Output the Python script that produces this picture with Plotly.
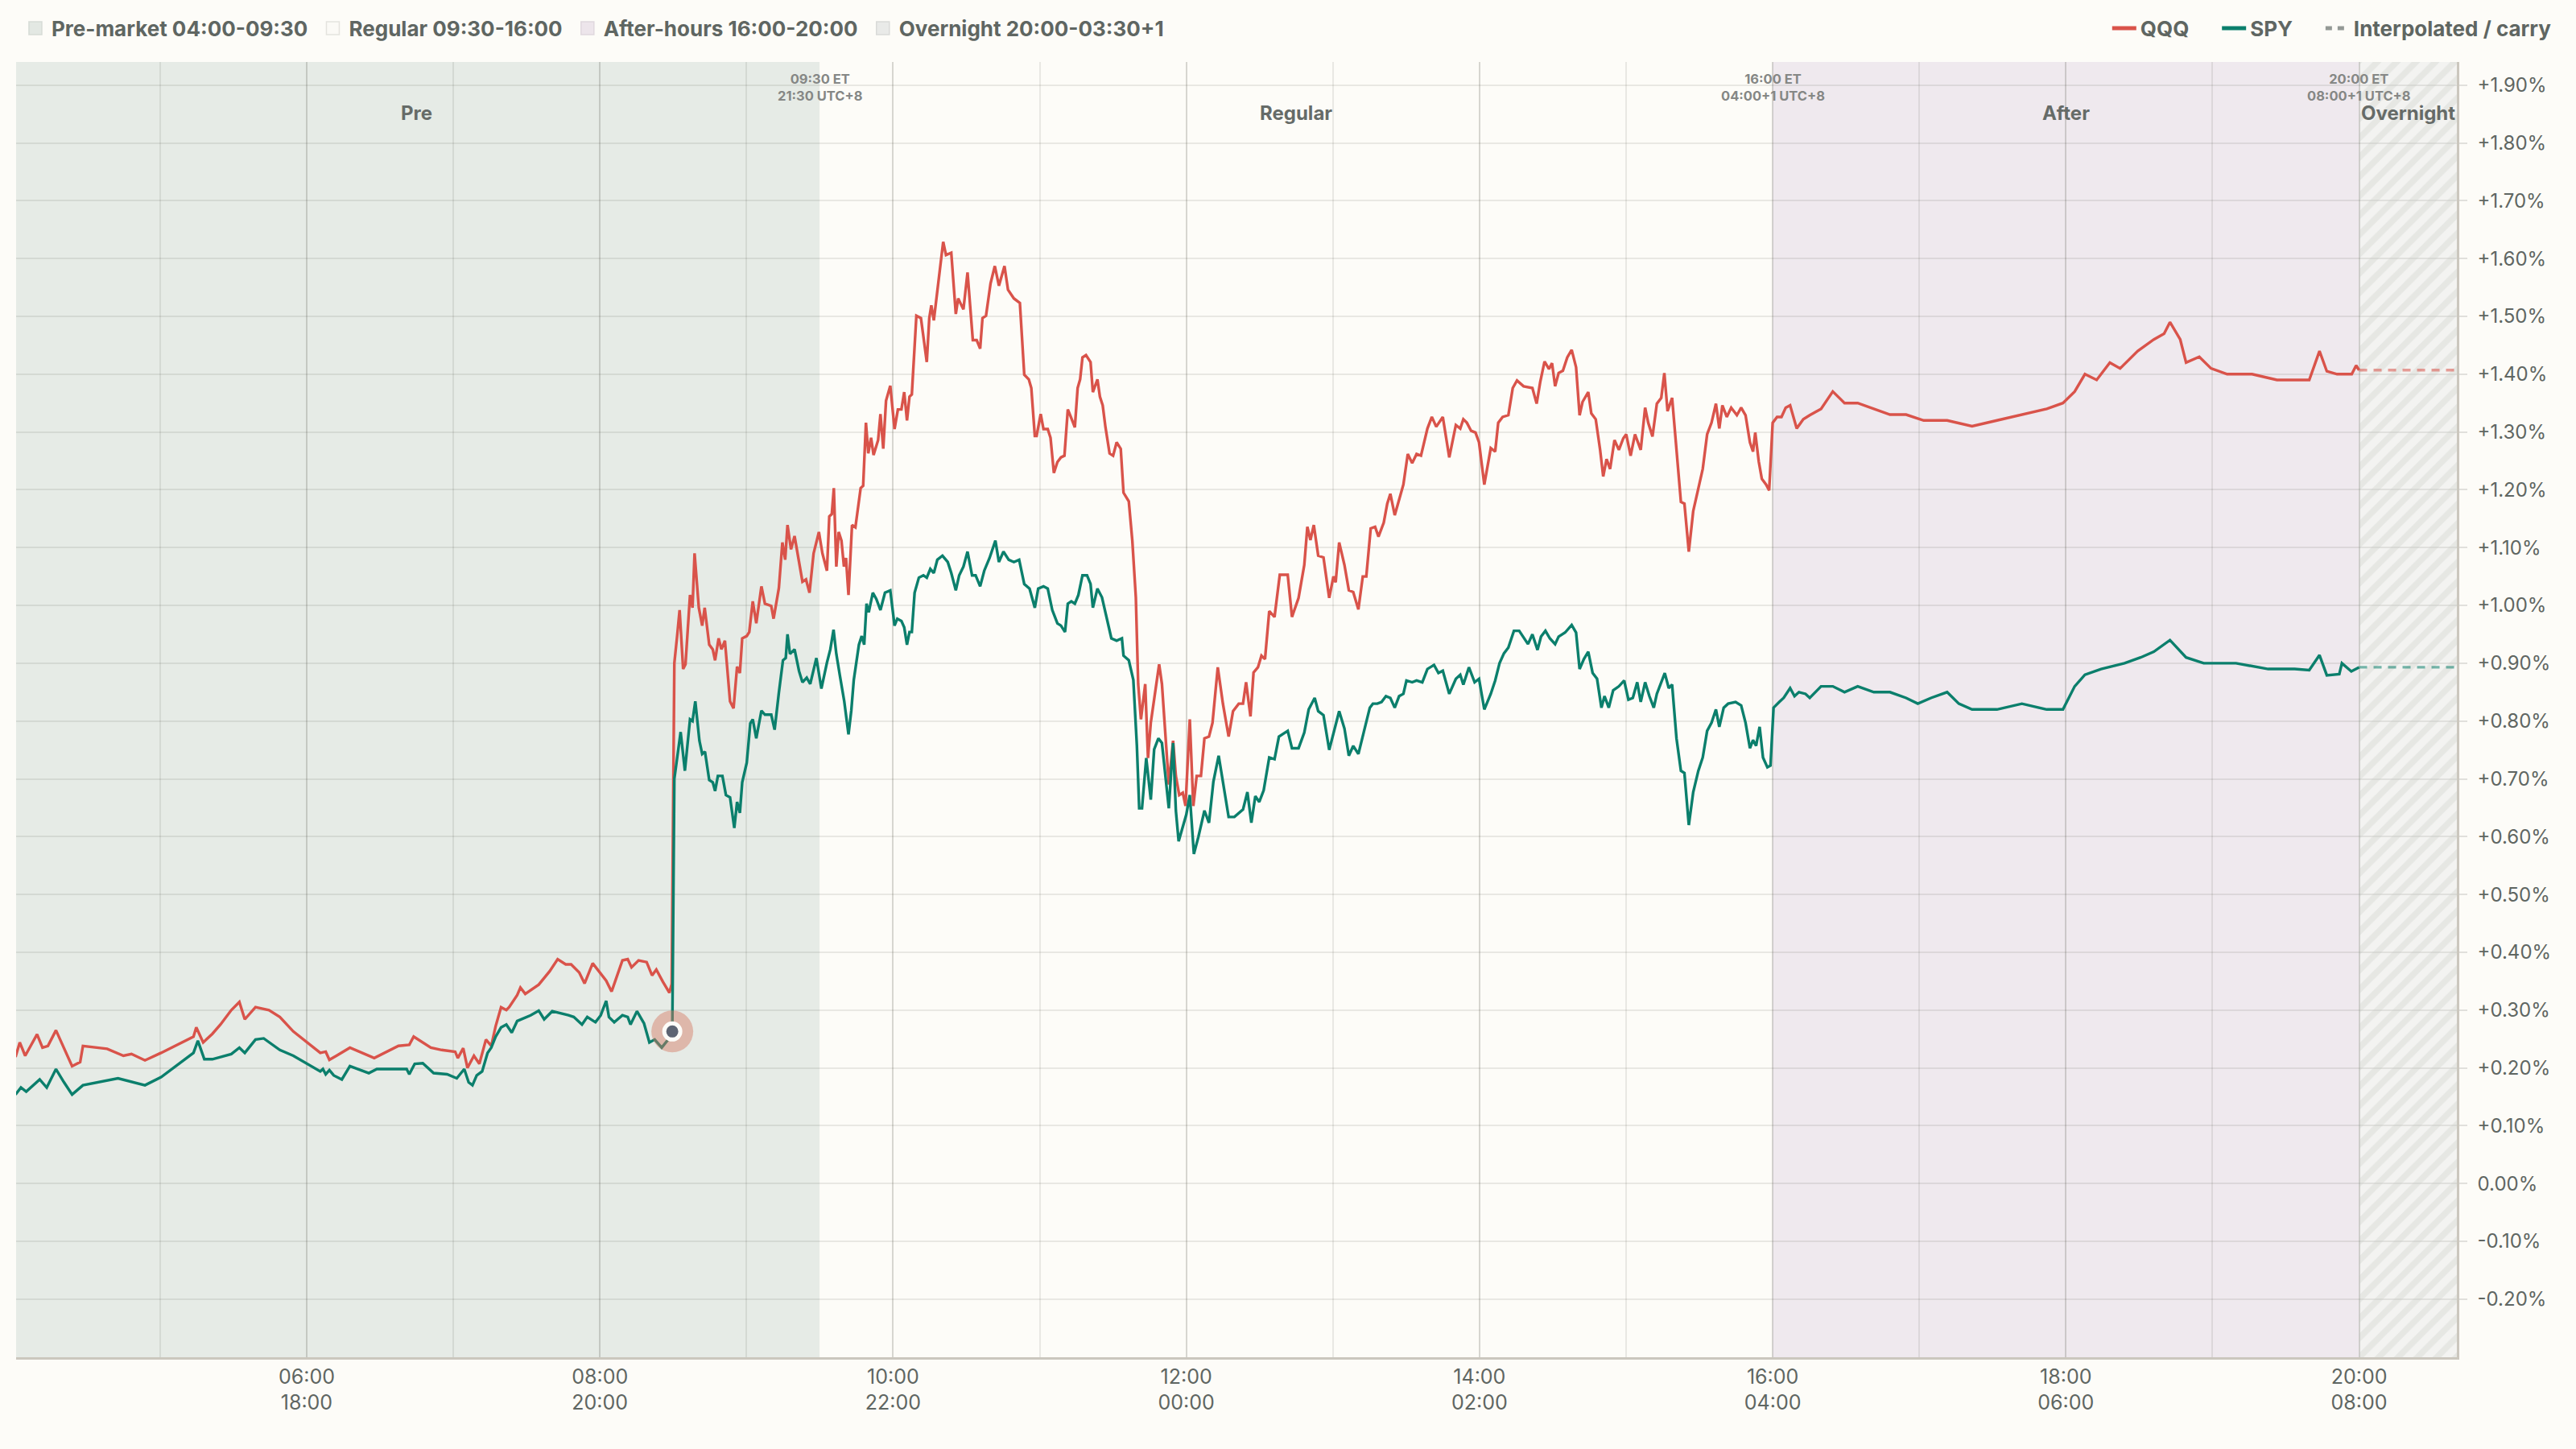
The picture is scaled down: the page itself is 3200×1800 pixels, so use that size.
import plotly.graph_objects as go
from datetime import datetime, timedelta

# ---------------- data ----------------
# times are hours of the US/Eastern trading day, values are % change
qqq_hour = [
    4.014, 4.043, 4.080, 4.161, 4.198, 4.235, 4.290, 4.345, 4.400, 4.455, 4.474, 4.639, 4.750, 4.805, 4.897,
    5.007, 5.228, 5.247, 5.294, 5.357, 5.412, 5.486, 5.541, 5.578, 5.651, 5.743, 5.817, 5.909, 6.001, 6.093,
    6.130, 6.155, 6.203, 6.295, 6.461, 6.626, 6.700, 6.730, 6.847, 6.921, 7.013, 7.031, 7.068, 7.097, 7.141,
    7.178, 7.223, 7.259, 7.289, 7.326, 7.362, 7.381, 7.436, 7.458, 7.491, 7.583, 7.657, 7.712, 7.767, 7.804,
    7.859, 7.896, 7.951, 7.995, 8.043, 8.080, 8.117, 8.154, 8.190, 8.216, 8.264, 8.319, 8.356, 8.385, 8.430,
    8.474, 8.490,
    8.508, 8.527, 8.544, 8.568, 8.584, 8.615, 8.632, 8.646, 8.675, 8.698, 8.715, 8.746, 8.770, 8.786, 8.810,
    8.829, 8.853, 8.888, 8.912, 8.936, 8.955, 8.971, 9.002, 9.019, 9.043, 9.067, 9.102, 9.126, 9.169, 9.185,
    9.221, 9.245, 9.264, 9.280, 9.304, 9.328, 9.352, 9.382, 9.406, 9.430, 9.458, 9.494, 9.518, 9.549, 9.565,
    9.582, 9.596, 9.613, 9.629, 9.648, 9.665, 9.679, 9.696, 9.720, 9.743, 9.779, 9.796, 9.815, 9.831, 9.850,
    9.867, 9.898, 9.914, 9.933, 9.952, 9.981, 10.010, 10.033, 10.057, 10.076, 10.095, 10.112, 10.128, 10.159,
    10.190, 10.230, 10.247, 10.261, 10.278, 10.314, 10.342, 10.361, 10.397, 10.428, 10.444, 10.480, 10.508,
    10.544, 10.570, 10.594, 10.610, 10.634, 10.665, 10.694, 10.722, 10.760, 10.784, 10.824, 10.865, 10.895,
    10.926, 10.943, 10.967, 10.979, 11.007, 11.026, 11.055, 11.074, 11.097, 11.121, 11.145, 11.169, 11.192,
    11.211, 11.240, 11.259, 11.276, 11.292, 11.316, 11.347, 11.363, 11.394, 11.411, 11.430, 11.449, 11.477,
    11.501, 11.525, 11.553, 11.572, 11.608, 11.632, 11.656, 11.672, 11.691, 11.720, 11.739, 11.758, 11.781,
    11.815, 11.834, 11.853, 11.881, 11.910, 11.929, 11.952, 11.976, 11.995, 12.024, 12.048, 12.071, 12.100,
    12.124, 12.155, 12.179, 12.215, 12.250, 12.289, 12.319, 12.358, 12.387, 12.408, 12.438, 12.459, 12.489,
    12.513, 12.537, 12.566, 12.602, 12.638, 12.692, 12.721, 12.766, 12.805, 12.826, 12.847, 12.870, 12.900,
    12.936, 12.975, 13.004, 13.019, 13.043, 13.079, 13.109, 13.139, 13.174, 13.204, 13.228, 13.258, 13.288,
    13.311, 13.347, 13.371, 13.392, 13.422, 13.452, 13.481, 13.511, 13.541, 13.571, 13.601, 13.645, 13.675,
    13.705, 13.750, 13.794, 13.839, 13.869, 13.890, 13.914, 13.943, 13.973, 13.997, 14.033, 14.077, 14.107,
    14.128, 14.158, 14.197, 14.227, 14.256, 14.301, 14.361, 14.390, 14.414, 14.444, 14.474, 14.495, 14.516,
    14.540, 14.569, 14.599, 14.629, 14.659, 14.683, 14.703, 14.742, 14.763, 14.793, 14.823, 14.844, 14.867,
    14.891, 14.921, 14.951, 14.981, 15.001, 15.031, 15.061, 15.100, 15.130, 15.151, 15.180, 15.210, 15.240,
    15.261, 15.283, 15.314, 15.350, 15.374, 15.398, 15.428, 15.458, 15.493, 15.523, 15.553, 15.583, 15.613,
    15.636, 15.657, 15.687, 15.717, 15.756, 15.785, 15.815, 15.845, 15.866, 15.881, 15.905, 15.926, 15.955,
    15.976, 16.000, 16.030, 16.060, 16.089, 16.119, 16.164, 16.209, 16.253,
    16.33, 16.41, 16.49, 16.58, 16.69, 16.80, 16.91, 17.03, 17.19, 17.36, 17.53, 17.70, 17.87, 17.98, 18.06,
    18.13, 18.21, 18.30, 18.37, 18.49, 18.60, 18.67, 18.71, 18.78, 18.82, 18.91, 18.99, 19.10, 19.27, 19.44,
    19.56, 19.66, 19.73, 19.78, 19.85, 19.95, 19.98, 20.00,
]
qqq_pct = [
    0.219, 0.244, 0.221, 0.258, 0.235, 0.238, 0.265, 0.235, 0.203, 0.210, 0.238, 0.233, 0.221, 0.224, 0.213,
    0.226, 0.254, 0.270, 0.244, 0.259, 0.275, 0.300, 0.314, 0.284, 0.305, 0.300, 0.288, 0.263, 0.244, 0.226,
    0.228, 0.214, 0.221, 0.235, 0.217, 0.238, 0.240, 0.254, 0.235, 0.231, 0.228, 0.217, 0.234, 0.200, 0.221,
    0.207, 0.249, 0.238, 0.272, 0.305, 0.300, 0.305, 0.326, 0.339, 0.328, 0.344, 0.367, 0.388, 0.379, 0.379,
    0.365, 0.346, 0.381, 0.367, 0.351, 0.332, 0.360, 0.386, 0.388, 0.374, 0.386, 0.383, 0.360, 0.370, 0.349,
    0.330, 0.345,
    0.900, 0.947, 0.992, 0.890, 0.898, 1.018, 0.996, 1.090, 0.996, 0.965, 0.996, 0.932, 0.924, 0.905, 0.943,
    0.924, 0.939, 0.834, 0.822, 0.894, 0.883, 0.943, 0.947, 0.954, 1.007, 0.969, 1.033, 1.003, 0.999, 0.977,
    1.030, 1.109, 1.079, 1.139, 1.097, 1.120, 1.082, 1.041, 1.045, 1.022, 1.090, 1.127, 1.090, 1.060, 1.154,
    1.158, 1.203, 1.067, 1.127, 1.112, 1.067, 1.082, 1.018, 1.139, 1.135, 1.203, 1.207, 1.316, 1.263, 1.290,
    1.260, 1.286, 1.331, 1.271, 1.354, 1.380, 1.305, 1.339, 1.339, 1.369, 1.320, 1.361, 1.365, 1.501,
    1.497, 1.421, 1.497, 1.519, 1.493, 1.565, 1.629, 1.606, 1.610, 1.504, 1.531, 1.512, 1.576,
    1.459, 1.459, 1.444, 1.497, 1.501, 1.557, 1.587, 1.553, 1.587, 1.546, 1.531, 1.523, 1.399,
    1.391, 1.376, 1.293, 1.293, 1.331, 1.305, 1.305, 1.290, 1.229, 1.248, 1.256, 1.259, 1.339,
    1.327, 1.308, 1.376, 1.391, 1.429, 1.433, 1.421, 1.369, 1.391, 1.361, 1.346, 1.308, 1.263,
    1.259, 1.282, 1.271, 1.195, 1.180, 1.112, 1.014, 0.864, 0.803, 0.864, 0.736, 0.797, 0.841,
    0.898, 0.864, 0.797, 0.690, 0.766, 0.705, 0.672, 0.676, 0.653, 0.803, 0.653, 0.705, 0.705,
    0.770, 0.773, 0.797, 0.893, 0.830, 0.773, 0.817, 0.830, 0.830, 0.867, 0.808, 0.884, 0.893,
    0.913, 0.907, 0.990, 0.980, 1.053, 1.053, 0.980, 1.013, 1.070, 1.136, 1.113, 1.139, 1.086,
    1.083, 1.013, 1.050, 1.040, 1.109, 1.070, 1.026, 1.023, 0.993, 1.050, 1.050, 1.133, 1.136,
    1.119, 1.143, 1.176, 1.193, 1.156, 1.183, 1.209, 1.262, 1.246, 1.262, 1.259, 1.306, 1.326,
    1.309, 1.326, 1.256, 1.312, 1.306, 1.322, 1.316, 1.302, 1.299, 1.282, 1.209, 1.272, 1.266,
    1.316, 1.326, 1.329, 1.376, 1.389, 1.379, 1.376, 1.349, 1.386, 1.422, 1.409, 1.419, 1.379,
    1.402, 1.406, 1.429, 1.442, 1.412, 1.329, 1.352, 1.369, 1.332, 1.322, 1.269, 1.223, 1.253,
    1.236, 1.286, 1.269, 1.289, 1.296, 1.259, 1.296, 1.269, 1.342, 1.316, 1.292, 1.349, 1.359,
    1.402, 1.336, 1.359, 1.243, 1.179, 1.176, 1.093, 1.163, 1.203, 1.236, 1.296, 1.316, 1.349,
    1.306, 1.346, 1.326, 1.342, 1.329, 1.342, 1.329, 1.282, 1.266, 1.299, 1.249, 1.219, 1.209,
    1.199, 1.316, 1.326, 1.326, 1.342, 1.346, 1.306, 1.322, 1.329,
    1.34, 1.37, 1.35, 1.35, 1.34, 1.33, 1.33, 1.32, 1.32, 1.31, 1.32, 1.33, 1.34, 1.35, 1.37,
    1.40, 1.39, 1.42, 1.41, 1.44, 1.46, 1.47, 1.49, 1.46, 1.42, 1.43, 1.41, 1.40, 1.40, 1.39,
    1.39, 1.39, 1.44, 1.405, 1.40, 1.40, 1.415, 1.407,
]

spy_hour = [
    4.014, 4.051, 4.087, 4.179, 4.227, 4.290, 4.345, 4.400, 4.474, 4.603, 4.713, 4.897, 5.007, 5.228, 5.258,
    5.302, 5.357, 5.486, 5.541, 5.578, 5.651, 5.707, 5.817, 5.909, 6.038, 6.093, 6.111, 6.130, 6.155, 6.185,
    6.240, 6.295, 6.424, 6.479, 6.682, 6.700, 6.737, 6.792, 6.866, 6.958, 7.024, 7.075, 7.105, 7.131, 7.160,
    7.197, 7.234, 7.259, 7.289, 7.326, 7.362, 7.399, 7.436, 7.528, 7.583, 7.620, 7.675, 7.730, 7.786, 7.822,
    7.878, 7.914, 7.970, 8.006, 8.043, 8.062, 8.098, 8.154, 8.190, 8.209, 8.253, 8.301, 8.338, 8.374, 8.422,
    8.466, 8.494,
    8.508, 8.527, 8.551, 8.580, 8.615, 8.632, 8.651, 8.679, 8.698, 8.717, 8.746, 8.770, 8.786, 8.805, 8.836,
    8.860, 8.888, 8.917, 8.936, 8.955, 8.971, 9.002, 9.026, 9.043, 9.067, 9.102, 9.126, 9.169, 9.192, 9.221,
    9.249, 9.268, 9.280, 9.297, 9.328, 9.359, 9.382, 9.411, 9.435, 9.477, 9.511, 9.549, 9.572, 9.594, 9.613,
    9.637, 9.667, 9.696, 9.715, 9.732, 9.767, 9.786, 9.803, 9.819, 9.834, 9.862, 9.886, 9.914, 9.945, 9.981,
    10.010, 10.029, 10.057, 10.076, 10.095, 10.112, 10.128, 10.147, 10.176, 10.207, 10.230, 10.254, 10.278,
    10.302, 10.337, 10.373, 10.397, 10.428, 10.451, 10.480, 10.508, 10.539, 10.563, 10.594, 10.622, 10.658,
    10.698, 10.722, 10.753, 10.789, 10.824, 10.860, 10.895, 10.931, 10.967, 10.990, 11.026, 11.055, 11.086,
    11.121, 11.145, 11.173, 11.192, 11.216, 11.240, 11.264, 11.292, 11.323, 11.347, 11.363, 11.394, 11.425,
    11.454, 11.489, 11.525, 11.561, 11.572, 11.608, 11.639, 11.663, 11.679, 11.698, 11.727, 11.758, 11.781,
    11.810, 11.834, 11.862, 11.881, 11.910, 11.929, 11.948, 11.976, 12.000, 12.024, 12.052, 12.083, 12.124,
    12.155, 12.185, 12.221, 12.259, 12.289, 12.328, 12.358, 12.387, 12.417, 12.444, 12.471, 12.498, 12.528,
    12.566, 12.602, 12.632, 12.692, 12.721, 12.766, 12.805, 12.835, 12.876, 12.900, 12.936, 12.975, 13.004,
    13.043, 13.079, 13.109, 13.139, 13.174, 13.213, 13.252, 13.273, 13.303, 13.332, 13.362, 13.392, 13.422,
    13.452, 13.481, 13.502, 13.541, 13.571, 13.610, 13.645, 13.690, 13.720, 13.750, 13.794, 13.839, 13.869,
    13.890, 13.928, 13.967, 13.997, 14.033, 14.077, 14.107, 14.137, 14.167, 14.197, 14.235, 14.271, 14.307,
    14.331, 14.361, 14.396, 14.420, 14.450, 14.480, 14.516, 14.540, 14.584, 14.629, 14.659, 14.683, 14.712,
    14.742, 14.772, 14.802, 14.832, 14.853, 14.882, 14.912, 14.951, 14.987, 15.016, 15.046, 15.076, 15.100,
    15.130, 15.159, 15.189, 15.210, 15.240, 15.264, 15.291, 15.314, 15.344, 15.374, 15.398, 15.428, 15.458,
    15.493, 15.523, 15.553, 15.583, 15.613, 15.636, 15.666, 15.696, 15.747, 15.785, 15.815, 15.845, 15.866,
    15.887, 15.911, 15.934, 15.964, 15.985, 16.006, 16.045, 16.075, 16.119, 16.149, 16.179, 16.224, 16.253,
    16.33, 16.41, 16.49, 16.58, 16.69, 16.80, 16.91, 16.99, 17.08, 17.19, 17.27, 17.36, 17.53, 17.70, 17.87,
    17.98, 18.06, 18.13, 18.24, 18.40, 18.51, 18.60, 18.71, 18.82, 18.94, 19.16, 19.38,
    19.56, 19.66, 19.73, 19.78, 19.865, 19.883, 19.947, 20.00,
]
spy_pct = [
    0.154, 0.166, 0.159, 0.180, 0.166, 0.198, 0.175, 0.154, 0.170, 0.177, 0.182, 0.170, 0.184, 0.226, 0.247,
    0.215, 0.215, 0.224, 0.235, 0.226, 0.249, 0.251, 0.231, 0.221, 0.203, 0.194, 0.198, 0.189, 0.196, 0.187,
    0.180, 0.203, 0.191, 0.198, 0.198, 0.189, 0.207, 0.208, 0.191, 0.189, 0.182, 0.198, 0.175, 0.170, 0.187,
    0.194, 0.226, 0.235, 0.254, 0.270, 0.275, 0.261, 0.281, 0.291, 0.299, 0.284, 0.298, 0.295, 0.291, 0.288,
    0.275, 0.288, 0.279, 0.291, 0.316, 0.288, 0.279, 0.291, 0.288, 0.275, 0.298, 0.277, 0.244, 0.249, 0.235,
    0.249, 0.263,
    0.700, 0.736, 0.781, 0.714, 0.803, 0.800, 0.834, 0.766, 0.743, 0.747, 0.698, 0.694, 0.679, 0.705, 0.705,
    0.672, 0.668, 0.615, 0.660, 0.641, 0.694, 0.728, 0.796, 0.803, 0.770, 0.818, 0.811, 0.811, 0.785, 0.849,
    0.905, 0.909, 0.950, 0.916, 0.924, 0.886, 0.867, 0.875, 0.864, 0.909, 0.856, 0.901, 0.924, 0.958, 0.916,
    0.879, 0.834, 0.777, 0.818, 0.871, 0.932, 0.947, 0.932, 1.003, 0.988, 1.022, 1.011, 0.992, 1.022, 1.026,
    0.965, 0.977, 0.973, 0.962, 0.932, 0.954, 0.954, 1.022, 1.048, 1.052, 1.048, 1.063, 1.056,
    1.079, 1.086, 1.075, 1.056, 1.026, 1.052, 1.067, 1.093, 1.052, 1.052, 1.033, 1.060, 1.082,
    1.112, 1.075, 1.093, 1.079, 1.075, 1.079, 1.037, 1.029, 0.996, 1.029, 1.033, 1.029, 0.992,
    0.969, 0.965, 0.954, 1.003, 1.007, 1.003, 1.018, 1.052, 1.052, 1.037, 0.996, 1.029, 1.014,
    0.984, 0.943, 0.939, 0.943, 0.913, 0.905, 0.871, 0.758, 0.649, 0.649, 0.736, 0.664, 0.751,
    0.770, 0.762, 0.690, 0.649, 0.762, 0.645, 0.592, 0.615, 0.638, 0.672, 0.570, 0.600, 0.645,
    0.624, 0.695, 0.740, 0.677, 0.634, 0.634, 0.640, 0.647, 0.677, 0.624, 0.670, 0.660, 0.680,
    0.737, 0.734, 0.773, 0.783, 0.753, 0.753, 0.780, 0.820, 0.840, 0.817, 0.810, 0.750, 0.780,
    0.817, 0.787, 0.740, 0.757, 0.743, 0.783, 0.823, 0.830, 0.830, 0.833, 0.843, 0.840, 0.823,
    0.843, 0.847, 0.870, 0.867, 0.870, 0.867, 0.890, 0.897, 0.883, 0.887, 0.847, 0.873, 0.880,
    0.863, 0.893, 0.867, 0.873, 0.820, 0.847, 0.870, 0.900, 0.917, 0.927, 0.956, 0.956, 0.943,
    0.933, 0.950, 0.923, 0.946, 0.956, 0.943, 0.933, 0.946, 0.953, 0.966, 0.953, 0.890, 0.907,
    0.920, 0.883, 0.873, 0.823, 0.843, 0.823, 0.853, 0.860, 0.870, 0.837, 0.840, 0.867, 0.833,
    0.867, 0.843, 0.823, 0.847, 0.867, 0.883, 0.857, 0.863, 0.770, 0.714, 0.710, 0.620, 0.677,
    0.714, 0.737, 0.783, 0.797, 0.820, 0.790, 0.823, 0.830, 0.833, 0.827, 0.797, 0.753, 0.767,
    0.757, 0.790, 0.737, 0.720, 0.723, 0.823, 0.833, 0.840, 0.857, 0.843, 0.850, 0.847, 0.840,
    0.86, 0.86, 0.85, 0.86, 0.85, 0.85, 0.84, 0.83, 0.84, 0.85, 0.83, 0.82, 0.82, 0.83, 0.82,
    0.82, 0.86, 0.88, 0.89, 0.90, 0.91, 0.92, 0.94, 0.91, 0.90, 0.90, 0.89,
    0.89, 0.888, 0.914, 0.879, 0.881, 0.900, 0.886, 0.893,
]

event_hour = 8.494          # pre-jump SPY print marked with a ring

session_names = ["Pre", "Regular", "After", "Overnight"]
session_legend = ["Pre-market 04:00-09:30", "Regular 09:30-16:00",
                  "After-hours 16:00-20:00", "Overnight 20:00-03:30+1"]
session_start = [4.0, 9.5, 16.0, 20.0]
session_end = [9.5, 16.0, 20.0, 20.667]

series_names = ["QQQ", "SPY", "Interpolated / carry"]

boundary_hour = [9.5, 16.0, 20.0]
boundary_text = ["09:30 ET<br>21:30 UTC+8", "16:00 ET<br>04:00+1 UTC+8", "20:00 ET<br>08:00+1 UTC+8"]

x_tick_hour = [6, 8, 10, 12, 14, 16, 18, 20]
x_tick_label = ["06:00<br>18:00", "08:00<br>20:00", "10:00<br>22:00", "12:00<br>00:00",
                "14:00<br>02:00", "16:00<br>04:00", "18:00<br>06:00", "20:00<br>08:00"]
y_tick_val = [-0.2, -0.1, 0.0, 0.1, 0.2, 0.3, 0.4, 0.5, 0.6, 0.7, 0.8, 0.9, 1.0,
              1.1, 1.2, 1.3, 1.4, 1.5, 1.6, 1.7, 1.8, 1.9]
y_tick_label = ["-0.20%", "-0.10%", "0.00%", "+0.10%", "+0.20%", "+0.30%", "+0.40%", "+0.50%",
                "+0.60%", "+0.70%", "+0.80%", "+0.90%", "+1.00%", "+1.10%", "+1.20%", "+1.30%",
                "+1.40%", "+1.50%", "+1.60%", "+1.70%", "+1.80%", "+1.90%"]

x_range_hour = [4.018, 20.667]
y_range = [-0.3005, 1.940]

# ---------------- styling ----------------
BASE = datetime(2025, 1, 15)


def ts(h):
    return BASE + timedelta(hours=h)


NB = "\u00a0"
FONT = "Inter, Roboto, 'Open Sans', sans-serif"
BG = "#fdfcf8"
QQQ_C = "#d9534a"
SPY_C = "#0b7f6c"
GRID = "rgba(60,60,50,0.10)"
AXIS = "#cbc7be"
TXT = "#5f6662"
LW = 3.4
session_fill = ["#e6ebe6", BG, "#efe9ee", "#f3f3f1"]
session_box = ["#e3e8e3", "#fbfaf6", "#ede5eb", "#e9eae8"]
session_box_line = ["#d6dbd6", "#e4e3de", "#e0d8de", "#d9dad8"]
session_pad = [NB, NB, NB, ""]
series_pad = [NB * 5, NB * 5, ""]

fig = go.Figure()

# overnight hatch
o0, o1 = ts(session_start[3]), ts(session_end[3])
fig.add_trace(go.Scatter(
    x=[o0, o0, o1, o1, o0], y=[y_range[0], y_range[1], y_range[1], y_range[0], y_range[0]],
    mode="lines", line=dict(width=0), fill="toself", fillcolor="rgba(0,0,0,0)",
    fillpattern=dict(shape="/", fgcolor="rgba(198,201,196,0.6)", bgcolor="rgba(0,0,0,0)",
                     size=17, solidity=0.45),
    hoverinfo="skip", showlegend=False))

# carry-forward dashed lines
fig.add_trace(go.Scatter(
    x=[ts(qqq_hour[-1]), ts(x_range_hour[1])], y=[qqq_pct[-1], qqq_pct[-1]], mode="lines",
    line=dict(color="rgba(217,83,74,0.55)", width=LW, dash="10px,8px"),
    hoverinfo="skip", showlegend=False))
fig.add_trace(go.Scatter(
    x=[ts(spy_hour[-1]), ts(x_range_hour[1])], y=[spy_pct[-1], spy_pct[-1]], mode="lines",
    line=dict(color="rgba(11,127,108,0.55)", width=LW, dash="10px,8px"),
    hoverinfo="skip", showlegend=False))

# main series
fig.add_trace(go.Scatter(x=[ts(h) for h in qqq_hour], y=qqq_pct, mode="lines", name=series_names[0],
                         line=dict(color=QQQ_C, width=LW), legend="legend2",
                         legendgroup="qqq", showlegend=False))
fig.add_trace(go.Scatter(x=[ts(h) for h in spy_hour], y=spy_pct, mode="lines", name=series_names[1],
                         line=dict(color=SPY_C, width=LW), legend="legend2",
                         legendgroup="spy", showlegend=False))

# event marker
ei = spy_hour.index(event_hour)
fig.add_trace(go.Scatter(x=[ts(spy_hour[ei])], y=[spy_pct[ei]], mode="markers",
                         marker=dict(size=52, color="rgba(212,120,98,0.45)"),
                         hoverinfo="skip", showlegend=False))
fig.add_trace(go.Scatter(x=[ts(spy_hour[ei])], y=[spy_pct[ei]], mode="markers",
                         marker=dict(size=20, color="#5d6472", line=dict(color=BG, width=5)),
                         hoverinfo="skip", showlegend=False))

# legend: sessions
for i, lab in enumerate(session_legend):
    fig.add_trace(go.Scatter(x=[None], y=[None], mode="markers", name=lab + session_pad[i],
                             legend="legend",
                             marker=dict(symbol="square", size=16, color=session_box[i],
                                         line=dict(color=session_box_line[i], width=1.5))))
# legend: series
fig.add_trace(go.Scatter(x=[None], y=[None], mode="lines", name=series_names[0] + series_pad[0],
                         legend="legend2", legendgroup="qqq", line=dict(color=QQQ_C, width=5)))
fig.add_trace(go.Scatter(x=[None], y=[None], mode="lines", name=series_names[1] + series_pad[1],
                         legend="legend2", legendgroup="spy", line=dict(color=SPY_C, width=5)))
fig.add_trace(go.Scatter(x=[None], y=[None], mode="lines", name=series_names[2] + series_pad[2],
                         legend="legend2", legendgroup="carry",
                         line=dict(color="#949995", width=5, dash="8px,7px")))

shapes = []
for i in range(4):
    shapes.append(dict(type="rect", xref="x", yref="paper", layer="below",
                       x0=ts(session_start[i]), x1=ts(session_end[i]), y0=0, y1=1,
                       fillcolor=session_fill[i], line=dict(width=0)))

annotations = []
for i, nm in enumerate(session_names):
    mid = (session_start[i] + session_end[i]) / 2
    annotations.append(dict(x=ts(mid), xref="x", y=1, yref="paper", yshift=-63, yanchor="middle",
                            text=nm, showarrow=False,
                            font=dict(family=FONT, size=24, color="#666b68", weight=700)))
for h, t in zip(boundary_hour, boundary_text):
    annotations.append(dict(x=ts(h), xref="x", y=1, yref="paper", yshift=-9, yanchor="top",
                            text=t, showarrow=False,
                            font=dict(family=FONT, size=16.5, color="#858785", weight=700)))

legend_font = dict(family=FONT, size=26, color=TXT, weight=700)
fig.update_layout(
    width=3200, height=1800,
    margin=dict(l=20, r=148, t=75, b=114),
    paper_bgcolor=BG, plot_bgcolor=BG,
    font=dict(family=FONT, color=TXT),
    shapes=shapes, annotations=annotations,
    legend=dict(orientation="h", x=0.0013, xanchor="left", y=1.0261, yanchor="middle",
                traceorder="normal", font=legend_font, bgcolor="rgba(0,0,0,0)",
                itemclick=False, itemdoubleclick=False),
    legend2=dict(orientation="h", x=1.0405, xanchor="right", y=1.0261, yanchor="middle",
                 traceorder="normal", font=legend_font, bgcolor="rgba(0,0,0,0)"),
    xaxis=dict(type="date", range=[ts(x_range_hour[0]), ts(x_range_hour[1])],
               tickmode="array", tickvals=[ts(h) for h in x_tick_hour], ticktext=x_tick_label,
               tickfont=dict(family=FONT, size=25, color=TXT),
               showgrid=True, gridcolor=GRID, gridwidth=1.5,
               minor=dict(tickmode="linear", tick0=ts(4), dtick=3600000, showgrid=True,
                          gridcolor=GRID, gridwidth=1.5),
               showline=True, linecolor=AXIS, linewidth=2.5, zeroline=False, ticks=""),
    yaxis=dict(range=y_range, side="right", tickmode="array", tickvals=y_tick_val,
               ticktext=y_tick_label, tickfont=dict(family=FONT, size=24, color=TXT),
               showgrid=True, gridcolor=GRID, gridwidth=1.5, zeroline=False,
               ticks="outside", ticklen=10, tickwidth=1.5, tickcolor="rgba(60,60,50,0.14)",
               ticklabelstandoff=8,
               showline=True, linecolor=AXIS, linewidth=2.5),
    hovermode=False,
)

fig.write_html("out.html")
